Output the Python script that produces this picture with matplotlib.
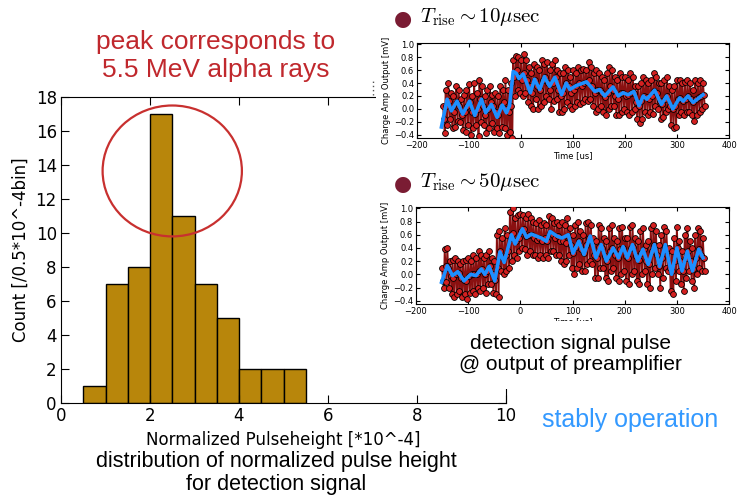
import numpy as np
import matplotlib
matplotlib.use("Agg")
import matplotlib.pyplot as plt
from matplotlib.patches import Ellipse, Rectangle
from matplotlib.lines import Line2D

# ---------------- histogram data ----------------
bin_left = [0.5, 1.0, 1.5, 2.0, 2.5, 3.0, 3.5, 4.0, 4.5, 5.0]
counts = [1, 7, 8, 17, 11, 7, 5, 2, 2, 2]
bin_width = 0.5
hist_xticks = [0, 2, 4, 6, 8, 10]
hist_yticks = [0, 2, 4, 6, 8, 10, 12, 14, 16, 18]

# ---------------- pulse waveforms (sample grid every 5 us) ----------------
t_grid = list(range(-150, 351, 5))

# pulse 1 (T_rise ~ 10 us): upper / middle / lower samples of the trace
p1_hi = [0.05, 0.30, 0.40, 0.25, 0.20, 0.35, 0.30, 0.15, 0.22, 0.30,
         0.38, 0.20, 0.40, 0.25, 0.45, 0.35, 0.20, 0.30, 0.35, 0.22,
         0.25, 0.20, 0.35, 0.30, 0.45, 0.30,
         0.40, 0.75, 0.82, 0.80, 0.75, 0.85, 0.75, 0.65, 0.55, 0.70,
         0.65, 0.60, 0.75, 0.70, 0.72, 0.60, 0.70, 0.75, 0.60, 0.55,
         0.55, 0.65, 0.60, 0.50, 0.60, 0.55, 0.65, 0.60, 0.62, 0.60,
         0.72, 0.65, 0.55, 0.60, 0.55, 0.50, 0.45, 0.55, 0.65, 0.60,
         0.50, 0.45, 0.55, 0.50, 0.50, 0.45, 0.55, 0.50, 0.35, 0.35,
         0.40, 0.50, 0.45, 0.40, 0.45, 0.55, 0.50, 0.40, 0.40, 0.45,
         0.50, 0.35, 0.30, 0.35, 0.45, 0.45, 0.40, 0.42, 0.45, 0.40,
         0.30, 0.45, 0.40, 0.45, 0.40]
p1_mid = [-0.15, 0.05, 0.12, 0.00, -0.05, 0.10, 0.05, -0.10, -0.05, 0.05,
          0.10, -0.05, -0.08, 0.00, 0.15, 0.05, -0.10, 0.00, 0.10, 0.05,
          -0.05, -0.10, 0.05, 0.10, 0.00, -0.05,
          0.05, 0.50, 0.60, 0.50, 0.45, 0.55, 0.45, 0.35, 0.25, 0.45,
          0.35, 0.30, 0.45, 0.50, 0.40, 0.30, 0.40, 0.50, 0.30, 0.20,
          0.25, 0.40, 0.35, 0.25, 0.30, 0.35, 0.40, 0.35, 0.40, 0.42,
          0.45, 0.35, 0.25, 0.30, 0.30, 0.25, 0.18, 0.25, 0.35, 0.30,
          0.20, 0.15, 0.25, 0.25, 0.20, 0.22, 0.25, 0.25, 0.10, 0.05,
          0.12, 0.20, 0.18, 0.15, 0.20, 0.28, 0.25, 0.12, 0.08, 0.15,
          0.20, 0.05, 0.00, 0.05, 0.15, 0.17, 0.12, 0.15, 0.20, 0.15,
          0.10, 0.15, 0.18, 0.20, 0.22]
p1_lo = [-0.38, -0.25, -0.15, -0.30, -0.28, -0.18, -0.20, -0.32, -0.35, -0.25,
         -0.40, -0.30, -0.25, -0.42, -0.20, -0.25, -0.38, -0.30, -0.22, -0.35,
         -0.30, -0.38, -0.28, -0.30, -0.40, -0.35,
         -0.45, 0.20, 0.30, 0.25, 0.20, 0.25, 0.10, 0.05, 0.00, 0.15,
         0.00, 0.05, 0.10, 0.20, 0.15, 0.00, 0.12, 0.15, -0.05, -0.05,
         0.00, 0.10, 0.05, 0.00, 0.05, 0.10, 0.08, 0.10, 0.15, 0.12,
         0.15, 0.05, -0.05, 0.00, 0.05, -0.05, -0.10, 0.00, 0.05, 0.05,
         -0.10, -0.10, -0.05, 0.00, -0.05, -0.10, -0.05, 0.00, -0.15, -0.22,
         -0.15, -0.05, -0.10, -0.05, -0.08, 0.05, 0.00, -0.15, -0.12, -0.05,
         0.00, -0.25, -0.30, -0.28, -0.10, -0.05, -0.10, -0.05, -0.05, -0.10,
         -0.18, -0.10, -0.05, 0.00, 0.05]
# smoothed trace (blue) of pulse 1
p1_fit_t = [-153, -142, -134, -123, -112, -99, -89, -76, -68, -57, -46, -36, -28,
            -22, -15, -9, -4, 4, 10, 18, 26, 36, 45, 55, 65, 78, 87, 94, 106,
            126, 142, 151, 161, 177, 187, 196, 206, 217, 227, 235, 242, 257,
            270, 280, 292, 305, 312, 321, 331, 350]
p1_fit_v = [-0.28, 0.15, -0.03, 0.12, -0.08, 0.12, -0.10, 0.15, -0.06, 0.07,
            -0.13, 0.06, -0.06, 0.05, 0.58, 0.55, 0.47, 0.54, 0.42, 0.25,
            0.46, 0.30, 0.50, 0.35, 0.49, 0.22, 0.40, 0.30, 0.36, 0.42,
            0.27, 0.30, 0.20, 0.34, 0.20, 0.25, 0.22, 0.27, 0.05, 0.20,
            0.15, 0.29, 0.07, 0.20, 0.00, 0.17, 0.12, 0.20, 0.10, 0.22]

# pulse 2 (T_rise ~ 50 us)
p2_hi = [0.10, 0.38, 0.40, 0.20, 0.22, 0.25, 0.20, 0.15, 0.20, 0.22,
         0.25, 0.20, 0.30, 0.25, 0.35, 0.30, 0.25, 0.30, 0.35, 0.25,
         0.20, 0.60,
         0.65, 0.55, 0.70, 0.60, 0.95, 1.00, 0.85, 0.90, 0.92, 0.90,
         0.85, 0.92, 0.85, 0.80, 0.78, 0.82, 0.75, 0.78, 0.75, 0.88,
         0.85, 0.78, 0.80, 0.75, 0.80, 0.75, 0.85, 0.70, 0.60, 0.75,
         0.80, 0.65, 0.60, 0.78, 0.80, 0.75, 0.55, 0.50, 0.75, 0.70,
         0.55, 0.50, 0.70, 0.75, 0.55, 0.50, 0.70, 0.72, 0.55, 0.55,
         0.72, 0.75, 0.55, 0.50, 0.65, 0.70, 0.45, 0.50, 0.70, 0.75,
         0.65, 0.45, 0.60, 0.72, 0.65, 0.40, 0.35, 0.55, 0.72, 0.50,
         0.35, 0.60, 0.70, 0.50, 0.40, 0.60, 0.70, 0.65, 0.55]
p2_mid = [-0.10, 0.12, 0.10, -0.02, -0.05, 0.00, 0.02, -0.05, -0.08, -0.10,
          -0.02, 0.00, 0.00, 0.00, 0.05, 0.08, 0.00, 0.05, 0.12, 0.00,
          -0.08, 0.10,
          0.35, 0.25, 0.30, 0.35, 0.55, 0.62, 0.50, 0.55, 0.65, 0.68,
          0.58, 0.60, 0.60, 0.55, 0.52, 0.55, 0.50, 0.55, 0.50, 0.62,
          0.60, 0.55, 0.58, 0.50, 0.50, 0.48, 0.58, 0.45, 0.32, 0.42,
          0.50, 0.38, 0.32, 0.45, 0.55, 0.50, 0.30, 0.25, 0.42, 0.40,
          0.28, 0.20, 0.35, 0.40, 0.30, 0.25, 0.38, 0.40, 0.28, 0.25,
          0.40, 0.42, 0.28, 0.22, 0.32, 0.38, 0.20, 0.15, 0.35, 0.45,
          0.30, 0.12, 0.25, 0.42, 0.35, 0.10, 0.05, 0.20, 0.40, 0.20,
          0.05, 0.25, 0.35, 0.20, 0.08, 0.25, 0.38, 0.30, 0.25]
p2_lo = [-0.20, -0.12, -0.20, -0.30, -0.35, -0.30, -0.25, -0.35, -0.30, -0.38,
         -0.28, -0.25, -0.30, -0.20, -0.25, -0.20, -0.28, -0.15, -0.15, -0.28,
         -0.30, -0.35,
         0.05, 0.00, 0.05, 0.10, 0.20, 0.30, 0.25, 0.35, 0.40, 0.38,
         0.30, 0.35, 0.30, 0.30, 0.25, 0.30, 0.25, 0.30, 0.25, 0.35,
         0.35, 0.30, 0.30, 0.20, 0.15, 0.20, 0.30, 0.10, 0.00, 0.10,
         0.15, 0.05, 0.05, 0.15, 0.20, 0.15, -0.05, -0.05, 0.10, 0.10,
         -0.05, -0.10, 0.05, 0.10, -0.05, -0.10, 0.00, 0.05, -0.10, -0.15,
         0.00, 0.05, -0.10, -0.15, 0.00, 0.05, -0.15, -0.20, 0.00, 0.10,
         0.00, -0.20, -0.05, 0.10, 0.05, -0.25, -0.30, -0.10, 0.05, -0.15,
         -0.25, -0.05, 0.05, -0.10, -0.20, 0.00, 0.10, 0.05, 0.05]
p2_fit_t = [-151, -140, -130, -120, -108, -95, -85, -75, -68, -60, -49, -39,
            -31, -17, -10, 4, 12, 21, 40, 50, 57, 70, 80, 92, 101, 112, 122,
            134, 145, 155, 165, 178, 188, 197, 205, 215, 225, 235, 245, 257,
            267, 278, 290, 300, 310, 320, 330, 342, 350]
p2_fit_v = [-0.12, 0.13, -0.02, 0.04, -0.10, 0.00, -0.02, 0.08, 0.00, 0.12,
            -0.10, 0.34, 0.18, 0.60, 0.46, 0.69, 0.56, 0.61, 0.55, 0.50,
            0.65, 0.58, 0.55, 0.60, 0.32, 0.50, 0.30, 0.58, 0.25, 0.45,
            0.20, 0.40, 0.25, 0.42, 0.25, 0.45, 0.20, 0.38, 0.15, 0.45,
            0.12, 0.45, 0.00, 0.40, 0.05, 0.35, 0.05, 0.38, 0.25]

inset_xticks = [-200, -100, 0, 100, 200, 300, 400]
inset_yticks = [-0.4, -0.2, 0.0, 0.2, 0.4, 0.6, 0.8, 1.0]

W, H = 745, 496
fig = plt.figure(figsize=(W / 100, H / 100), dpi=100)
plt.rcParams['mathtext.fontset'] = 'cm'


def fx(px):
    return px / W


def fy(py):
    return 1 - py / H


# ---------------- histogram ----------------
ax = fig.add_axes([fx(61), fy(403), (506 - 61) / W, (403 - 97) / H], zorder=0)
ax.bar(bin_left, counts, width=bin_width, align='edge', color='#b8860b',
       edgecolor='black', linewidth=1.0)
ax.set_xlim(0, 10)
ax.set_ylim(0, 18)
ax.set_xticks(hist_xticks)
ax.set_yticks(hist_yticks)
ax.tick_params(direction='in', top=True, right=True, length=6, labelsize=12, pad=3)
ax.set_xlabel("Normalized Pulseheight [*10^-4]", fontsize=12)
ax.set_ylabel("Count [/0.5*10^-4bin]", fontsize=12)
ax.add_patch(Ellipse((2.5, 13.65), 3.13, 7.7, fill=False, edgecolor='#c8302f',
                     linewidth=1.6, zorder=5))

# white panel over the right part of the histogram frame
fig.add_artist(Rectangle((fx(376), fy(389)), 1 - fx(376), 1 - fy(389) + 0.01,
                         transform=fig.transFigure, facecolor='white',
                         edgecolor='none', zorder=1))
fig.add_artist(Line2D([fx(373), fx(373)], [fy(95), fy(80)], transform=fig.transFigure,
                      color='#555555', linestyle=(0, (1, 2)), linewidth=1.0, zorder=1.5))


def pulse_inset(rect, hi, mid, lo, fit_t, fit_v, xlabel=True):
    a = fig.add_axes(rect, zorder=2)
    ts, vs = [], []
    for t, h, m, l in zip(t_grid, hi, mid, lo):
        ts += [t, t + 1.67, t + 3.33]
        vs += [h, m, l]
    a.plot(ts, vs, '-', color='#8a1010', linewidth=1.3, zorder=2)
    a.plot(ts, vs, 'o', markersize=4.2, markerfacecolor='#d42020',
           markeredgecolor='black', markeredgewidth=0.6, zorder=3)
    a.plot(fit_t, fit_v, '-', color='#1e8fff', linewidth=2.6, zorder=4)
    a.set_xlim(-200, 400)
    a.set_ylim(-0.45, 1.02)
    a.set_xticks(inset_xticks)
    a.set_yticks(inset_yticks)
    a.set_yticklabels([f"{v:.1f}".replace('-', '\u2212') for v in inset_yticks])
    a.tick_params(direction='in', top=True, right=True, length=3, labelsize=6, pad=2)
    a.set_ylabel("Charge Amp Output [mV]", fontsize=6, labelpad=2)
    if xlabel:
        a.set_xlabel("Time [us]", fontsize=6, labelpad=1)
    for s in a.spines.values():
        s.set_linewidth(0.8)
    return a


pulse_inset([fx(417), fy(138), (729 - 417) / W, 95 / H],
            p1_hi, p1_mid, p1_lo, p1_fit_t, p1_fit_v)
pulse_inset([fx(416), fy(304), (729 - 416) / W, 97 / H],
            p2_hi, p2_mid, p2_lo, p2_fit_t, p2_fit_v)

# clip area below the second inset
fig.add_artist(Rectangle((fx(376), fy(389)), 1 - fx(376), fy(321) - fy(389),
                         transform=fig.transFigure, facecolor='white',
                         edgecolor='none', zorder=2.5))

# bullets
for yb, label in [(19, r"$T_{\rm rise} \sim 10\mu{\rm sec}$"),
                  (184, r"$T_{\rm rise} \sim 50\mu{\rm sec}$")]:
    fig.text(fx(403), fy(yb), "\u25CF", color='#7a1c33', fontsize=15,
             ha='center', va='center', family='DejaVu Sans', zorder=3)
    fig.text(fx(420), fy(yb - 2), label, color='black', fontsize=15,
             ha='left', va='center', zorder=3)

sans = ['Liberation Sans', 'DejaVu Sans']
fig.text(fx(216), fy(56), "peak corresponds to\n5.5 MeV alpha rays", color='#c0282d',
         fontsize=19, ha='center', va='center', family=sans, linespacing=1.2, zorder=3)
fig.text(fx(570), fy(354), "detection signal pulse\n@ output of preamplifier",
         color='black', fontsize=15, ha='center', va='center', family=sans,
         linespacing=1.1, zorder=3)
fig.text(fx(630), fy(420), "stably operation", color='#3399ff', fontsize=18,
         ha='center', va='center', family=sans, zorder=3)
fig.text(fx(276), fy(473), "distribution of normalized pulse height\nfor detection signal",
         color='black', fontsize=15.5, ha='center', va='center', family=sans,
         linespacing=1.1, zorder=3)

fig.savefig("out.png", dpi=100)
